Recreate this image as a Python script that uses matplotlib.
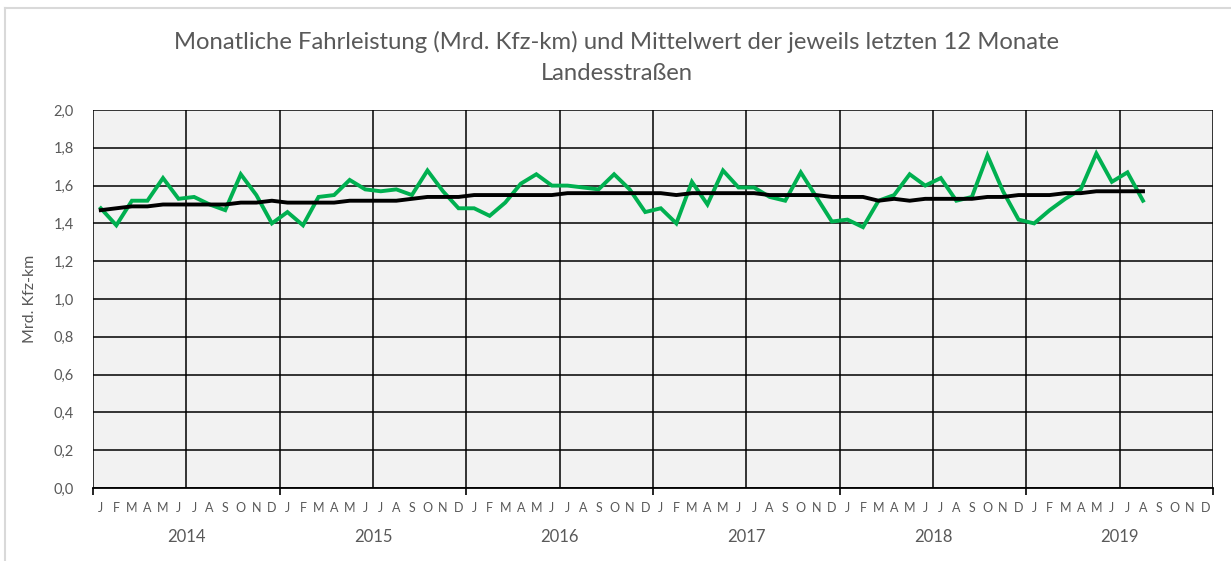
import numpy as np
import matplotlib.pyplot as plt
from matplotlib.lines import Line2D
import matplotlib.transforms as mtransforms

plt.rcParams['font.family'] = ['Lato', 'DejaVu Sans']

years = ['2014', '2015', '2016', '2017', '2018', '2019']
months = ['J', 'F', 'M', 'A', 'M', 'J', 'J', 'A', 'S', 'O', 'N', 'D']

# monthly Fahrleistung, Jan 2014 - Aug 2019
monthly = [
    1.48, 1.39, 1.52, 1.52, 1.64, 1.53, 1.54, 1.50, 1.47, 1.66, 1.55, 1.40,
    1.46, 1.39, 1.54, 1.55, 1.63, 1.58, 1.57, 1.58, 1.55, 1.68, 1.57, 1.48,
    1.48, 1.44, 1.51, 1.61, 1.66, 1.60, 1.60, 1.59, 1.58, 1.66, 1.58, 1.46,
    1.48, 1.40, 1.62, 1.50, 1.68, 1.59, 1.59, 1.54, 1.52, 1.67, 1.54, 1.41,
    1.42, 1.38, 1.52, 1.55, 1.66, 1.60, 1.64, 1.52, 1.54, 1.76, 1.57, 1.42,
    1.40, 1.47, 1.53, 1.58, 1.77, 1.62, 1.67, 1.52,
]
# mean of the last 12 months
rolling = [
    1.47, 1.48, 1.49, 1.49, 1.50, 1.50, 1.50, 1.50, 1.50, 1.51, 1.51, 1.52,
    1.51, 1.51, 1.51, 1.51, 1.52, 1.52, 1.52, 1.52, 1.53, 1.54, 1.54, 1.54,
    1.55, 1.55, 1.55, 1.55, 1.55, 1.55, 1.56, 1.56, 1.56, 1.56, 1.56, 1.56,
    1.56, 1.55, 1.56, 1.56, 1.56, 1.56, 1.56, 1.55, 1.55, 1.55, 1.55, 1.54,
    1.54, 1.54, 1.52, 1.53, 1.52, 1.53, 1.53, 1.53, 1.53, 1.54, 1.54, 1.55,
    1.55, 1.55, 1.56, 1.56, 1.57, 1.57, 1.57, 1.57,
]

n_months = 12 * len(years)
grey = '#595959'

fig = plt.figure(figsize=(12.31, 5.61), dpi=100)
ax = fig.add_axes([93 / 1231, 1 - 488 / 561, 1120 / 1231, 378 / 561])
ax.set_facecolor('#F2F2F2')

# light frame around the chart
fig.add_artist(Line2D([5 / 1231, 5 / 1231], [0, 1 - 8 / 561], color='#D9D9D9', lw=1.5))
fig.add_artist(Line2D([5 / 1231, 1], [1 - 8 / 561, 1 - 8 / 561], color='#D9D9D9', lw=1.5))

x = np.arange(len(monthly)) + 0.5
ax.plot(x, monthly, color='#00B050', lw=2.8, zorder=3, solid_joinstyle='miter')
ax.plot(x, rolling, color='black', lw=2.8, zorder=4)

ax.set_xlim(0, n_months)
ax.set_ylim(0, 2.0)
ax.set_yticks(np.arange(0, 2.01, 0.2))
ax.set_yticklabels([f'{v:.1f}'.replace('.', ',') for v in np.arange(0, 2.01, 0.2)])

# gridlines every half year
for gx in range(0, n_months + 1, 6):
    ax.axvline(gx, color='black', lw=1.1, zorder=1)
ax.grid(axis='y', color='black', lw=1.1, zorder=1)
ax.set_axisbelow(True)

for s in ['top', 'right', 'left']:
    ax.spines[s].set_visible(False)
ax.spines['bottom'].set_color('black')
ax.spines['bottom'].set_linewidth(1.3)

ax.set_xticks(np.arange(0, n_months + 1, 12))
ax.set_xticklabels([])
ax.tick_params(axis='x', which='major', length=5, width=1.2, color='black')
ax.set_xticks(np.arange(n_months) + 0.5, minor=True)
ax.set_xticklabels(months * len(years), minor=True)
ax.tick_params(axis='x', which='minor', length=0, pad=10, labelsize=9, labelcolor=grey)
ax.tick_params(axis='y', length=0, pad=14, labelsize=10.5, labelcolor=grey)

trans = mtransforms.blended_transform_factory(ax.transData, fig.transFigure)
for i, yr in enumerate(years):
    ax.text(12 * i + 6, 1 - 537 / 561, yr, transform=trans, ha='center', va='center',
            fontsize=12, color=grey)

ax.set_ylabel('Mrd. Kfz-km', fontsize=11.5, color=grey, labelpad=12)

fig.text(617 / 1231, 1 - 42 / 561, 'Monatliche Fahrleistung (Mrd. Kfz-km) und Mittelwert der jeweils letzten 12 Monate',
         ha='center', va='center', fontsize=17.2, color=grey)
fig.text(617 / 1231, 1 - 73 / 561, 'Landesstraßen', ha='center', va='center', fontsize=17.2, color=grey)

fig.savefig('out.png', dpi=100)
